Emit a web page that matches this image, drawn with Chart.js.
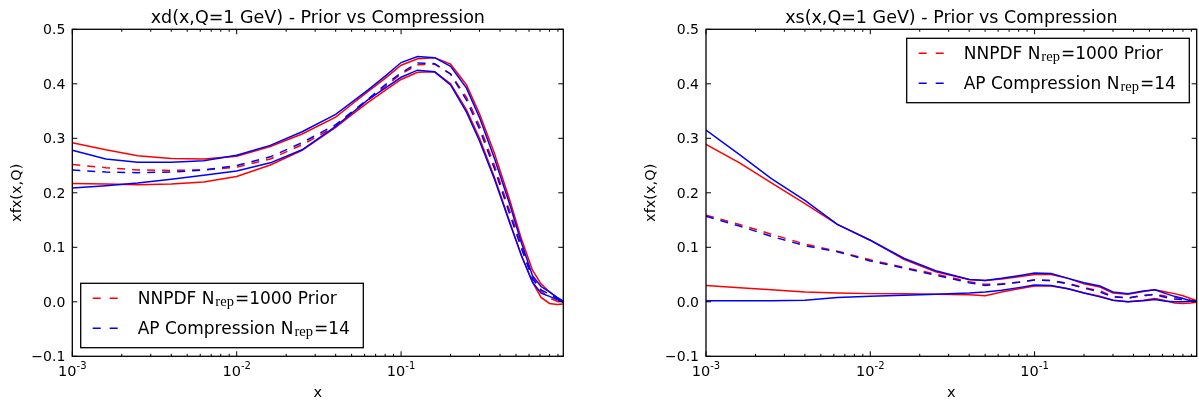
<!DOCTYPE html>
<html>
<head>
<meta charset="utf-8">
<title>Prior vs Compression</title>
<script src="https://cdn.jsdelivr.net/npm/chart.js@4.4.0/dist/chart.umd.min.js"></script>
<style>
  html, body { margin: 0; padding: 0; background: #fff; }
  #wrap { position: relative; width: 1199px; height: 403px; overflow: hidden; }
  .panel { position: absolute; top: 0; }
</style>
</head>
<body>
<div id="wrap">
  <div class="panel" style="left:0"><canvas id="chartD" width="600" height="403"></canvas></div>
  <div class="panel" style="left:600px"><canvas id="chartS" width="599" height="403"></canvas></div>
</div>
<script>
/* Two PDF panels (xd, xs at Q=1 GeV): prior vs compressed set, central value dashed, 1-sigma band solid. */

const xGrid = [0.001, 0.0016, 0.0025, 0.004, 0.0063, 0.01, 0.016, 0.025, 0.04, 0.05, 0.063, 0.08,
               0.1, 0.126, 0.16, 0.2, 0.25, 0.3, 0.37, 0.46, 0.54, 0.63, 0.71, 0.8, 0.89, 0.97];

// xd(x, Q=1 GeV)
const xdPriorCentral = [0.252, 0.246, 0.242, 0.241, 0.242, 0.247, 0.262, 0.288, 0.322, 0.346, 0.370, 0.395,
                        0.418, 0.435, 0.436, 0.418, 0.375, 0.323, 0.250, 0.165, 0.102, 0.046, 0.020, 0.007, 0.001, -0.002];
const xdPriorUpper   = [0.292, 0.279, 0.268, 0.263, 0.262, 0.267, 0.285, 0.308, 0.339, 0.362, 0.386, 0.410,
                        0.434, 0.446, 0.448, 0.436, 0.398, 0.345, 0.272, 0.185, 0.115, 0.058, 0.033, 0.018, 0.007, 0.000];
const xdPriorLower   = [0.217, 0.216, 0.215, 0.216, 0.220, 0.230, 0.251, 0.278, 0.320, 0.343, 0.366, 0.388,
                        0.408, 0.421, 0.422, 0.400, 0.352, 0.300, 0.228, 0.145, 0.084, 0.036, 0.008, -0.003, -0.005, -0.004];
const xdCompCentral  = [0.242, 0.238, 0.237, 0.238, 0.242, 0.250, 0.266, 0.292, 0.325, 0.348, 0.372, 0.398,
                        0.420, 0.438, 0.437, 0.418, 0.370, 0.317, 0.244, 0.159, 0.098, 0.042, 0.022, 0.014, 0.006, 0.000];
const xdCompUpper    = [0.278, 0.262, 0.256, 0.256, 0.259, 0.269, 0.287, 0.312, 0.344, 0.366, 0.389, 0.414,
                        0.439, 0.450, 0.448, 0.432, 0.392, 0.338, 0.263, 0.177, 0.108, 0.048, 0.028, 0.018, 0.008, 0.001];
const xdCompLower    = [0.209, 0.213, 0.218, 0.225, 0.232, 0.240, 0.255, 0.279, 0.322, 0.346, 0.371, 0.392,
                        0.412, 0.425, 0.422, 0.398, 0.348, 0.295, 0.225, 0.143, 0.085, 0.036, 0.016, 0.010, 0.004, -0.001];

// xs(x, Q=1 GeV)
const xsPriorCentral = [0.159, 0.142, 0.124, 0.106, 0.093, 0.077, 0.063, 0.051, 0.037, 0.032, 0.033, 0.036,
                        0.040, 0.039, 0.034, 0.026, 0.020, 0.010, 0.007, 0.011, 0.014, 0.010, 0.008, 0.006, 0.003, 0.001];
const xsPriorUpper   = [0.289, 0.255, 0.218, 0.180, 0.142, 0.113, 0.078, 0.055, 0.041, 0.039, 0.042, 0.046,
                        0.050, 0.050, 0.043, 0.033, 0.027, 0.016, 0.014, 0.019, 0.022, 0.018, 0.015, 0.011, 0.006, 0.002];
const xsPriorLower   = [0.030, 0.026, 0.022, 0.018, 0.016, 0.015, 0.015, 0.014, 0.013, 0.011, 0.018, 0.024,
                        0.029, 0.029, 0.024, 0.016, 0.010, 0.003, 0.000, 0.003, 0.006, 0.002, -0.002, -0.003, -0.002, -0.001];
const xsCompCentral  = [0.157, 0.139, 0.120, 0.103, 0.092, 0.075, 0.062, 0.049, 0.035, 0.030, 0.032, 0.036,
                        0.040, 0.039, 0.033, 0.025, 0.018, 0.009, 0.007, 0.012, 0.013, 0.008, 0.005, 0.004, 0.002, 0.001];
const xsCompUpper    = [0.315, 0.270, 0.226, 0.186, 0.142, 0.113, 0.080, 0.057, 0.041, 0.039, 0.043, 0.048,
                        0.053, 0.052, 0.043, 0.035, 0.029, 0.018, 0.015, 0.020, 0.022, 0.015, 0.010, 0.006, 0.002, 0.001];
const xsCompLower    = [0.002, 0.002, 0.002, 0.003, 0.008, 0.010, 0.012, 0.014, 0.016, 0.018, 0.021, 0.026,
                        0.031, 0.030, 0.024, 0.016, 0.009, 0.003, 0.000, 0.002, 0.004, 0.001, 0.000, 0.000, 0.001, 0.001];

const yTicks = [-0.1, 0.0, 0.1, 0.2, 0.3, 0.4, 0.5];
const yTickLabels = ['−0.1', '0.0', '0.1', '0.2', '0.3', '0.4', '0.5'];
const xDecades = [-3, -2, -1];
const xDecadeLabels = ['-3', '-2', '-1'];
const X_MIN = 0.001, X_MAX = 0.97, Y_MIN = -0.1, Y_MAX = 0.5;

const legendLabels = [
  { color: '#ff0000', pre: 'NNPDF N', sub: 'rep', post: '=1000 Prior' },
  { color: '#0000ff', pre: 'AP Compression N', sub: 'rep', post: '=14' }
];

const FONT = '"DejaVu Sans", sans-serif';
const SERIF = '"Liberation Serif", serif';

function pts(ys) { return xGrid.map((x, i) => ({ x, y: ys[i] })); }

function band(color, central, upper, lower, order) {
  const base = { borderColor: color, borderWidth: 1.5, pointRadius: 0, fill: false, tension: 0, order };
  return [
    { ...base, data: pts(central), borderDash: [8, 7] },
    { ...base, data: pts(upper) },
    { ...base, data: pts(lower) }
  ];
}

function seg(ctx, x1, y1, x2, y2) {
  ctx.beginPath(); ctx.moveTo(x1, y1); ctx.lineTo(x2, y2); ctx.stroke();
}

function drawLegend(ctx, a, where) {
  const w = 282.6, h = 64.4;
  const left = where === 'lower left' ? a.left + 8.4 : a.right - 7.4 - w;
  const top = where === 'lower left' ? a.bottom - 8.6 - h : a.top + 9;
  ctx.fillStyle = '#fff';
  ctx.fillRect(left, top, w, h);
  ctx.strokeStyle = '#000'; ctx.lineWidth = 1.3; ctx.setLineDash([]);
  ctx.strokeRect(left, top, w, h);
  legendLabels.forEach((lab, i) => {
    const cy = top + 15 + i * 30;
    ctx.strokeStyle = lab.color; ctx.lineWidth = 1.5; ctx.setLineDash([8, 9]);
    seg(ctx, left + 12, cy, left + 37, cy);
    ctx.setLineDash([]);
    const base = cy + 5.8;
    let x = left + 57;
    ctx.fillStyle = '#000'; ctx.textAlign = 'left'; ctx.textBaseline = 'alphabetic';
    ctx.font = `17px ${FONT}`;
    ctx.fillText(lab.pre, x, base); x += ctx.measureText(lab.pre).width + 1;
    ctx.font = `14.5px ${SERIF}`;
    ctx.fillText(lab.sub, x, base + 2); x += ctx.measureText(lab.sub).width + 1;
    ctx.font = `17px ${FONT}`;
    ctx.fillText(lab.post, x, base);
  });
}

const mplPlugin = {
  id: 'mpl',
  afterDraw(chart, args, opts) {
    const ctx = chart.ctx, a = chart.chartArea, xs = chart.scales.x, ys = chart.scales.y;
    ctx.save();
    ctx.setLineDash([]);
    ctx.strokeStyle = '#000';
    ctx.fillStyle = '#000';

    // y ticks + labels
    ctx.lineWidth = 1;
    ctx.font = `14px ${FONT}`; ctx.textAlign = 'right'; ctx.textBaseline = 'alphabetic';
    yTicks.forEach((v, i) => {
      const py = ys.getPixelForValue(v);
      seg(ctx, a.left, py, a.left + 5, py);
      seg(ctx, a.right, py, a.right - 5, py);
      ctx.fillText(yTickLabels[i], a.left - 7, py + 5.1);
    });

    // x ticks (log, major at decades, minor 2..9)
    xDecades.forEach((e, i) => {
      for (let m = 1; m <= 9; m++) {
        const v = m * Math.pow(10, e);
        if (v < X_MIN * 0.999 || v > X_MAX) continue;
        const px = xs.getPixelForValue(v);
        const len = m === 1 ? 5 : 2.5;
        seg(ctx, px, a.bottom, px, a.bottom - len);
        seg(ctx, px, a.top, px, a.top + len);
      }
      const px = xs.getPixelForValue(Math.pow(10, e));
      ctx.font = `14.5px ${FONT}`;
      const w10 = ctx.measureText('10').width;
      ctx.font = `10px ${FONT}`;
      const wSup = ctx.measureText(xDecadeLabels[i]).width;
      const start = px - (w10 + wSup) / 2;
      const base = a.bottom + 19.3;
      ctx.textAlign = 'left';
      ctx.font = `14.5px ${FONT}`;
      ctx.fillText('10', start, base);
      ctx.font = `10px ${FONT}`;
      ctx.fillText(xDecadeLabels[i], start + w10, base - 6.7);
    });

    // frame
    ctx.lineWidth = 1.3;
    ctx.strokeRect(a.left, a.top, a.right - a.left, a.bottom - a.top);

    // title and axis labels
    const cx = (a.left + a.right) / 2;
    ctx.textAlign = 'center'; ctx.textBaseline = 'alphabetic';
    ctx.font = `17.5px ${FONT}`;
    ctx.fillText(opts.title, cx, a.top - 6.3);
    ctx.font = `14.5px ${FONT}`;
    ctx.fillText('x', cx, a.bottom + 40.7);
    ctx.save();
    ctx.translate(a.left - 51, (a.top + a.bottom) / 2);
    ctx.rotate(-Math.PI / 2);
    ctx.fillText('xfx(x,Q)', 0, 0);
    ctx.restore();

    drawLegend(ctx, a, opts.legend);
    ctx.restore();
  }
};

function makePanel(id, title, legendWhere, yWidth, padRight, prior, comp) {
  return new Chart(document.getElementById(id), {
    type: 'line',
    data: {
      datasets: [
        ...band('#ff0000', prior[0], prior[1], prior[2], 2),
        ...band('#0000ff', comp[0], comp[1], comp[2], 1)
      ]
    },
    options: {
      responsive: false,
      animation: false,
      events: [],
      layout: { padding: { top: 29.3, right: padRight, left: 0, bottom: 0 } },
      scales: {
        x: {
          type: 'logarithmic', min: X_MIN, max: X_MAX,
          ticks: { display: false }, grid: { display: false }, border: { display: false },
          afterFit(scale) { scale.height = 46.7; }
        },
        y: {
          type: 'linear', min: Y_MIN, max: Y_MAX,
          ticks: { display: false }, grid: { display: false }, border: { display: false },
          afterFit(scale) { scale.width = yWidth; }
        }
      },
      plugins: {
        legend: { display: false },
        title: { display: false },
        tooltip: { enabled: false },
        mpl: { title, legend: legendWhere }
      }
    },
    plugins: [mplPlugin]
  });
}

makePanel('chartD', 'xd(x,Q=1 GeV) - Prior vs Compression', 'lower left', 72.3, 36.7,
  [xdPriorCentral, xdPriorUpper, xdPriorLower], [xdCompCentral, xdCompUpper, xdCompLower]);
makePanel('chartS', 'xs(x,Q=1 GeV) - Prior vs Compression', 'upper right', 106, 2.3,
  [xsPriorCentral, xsPriorUpper, xsPriorLower], [xsCompCentral, xsCompUpper, xsCompLower]);
</script>
</body>
</html>
